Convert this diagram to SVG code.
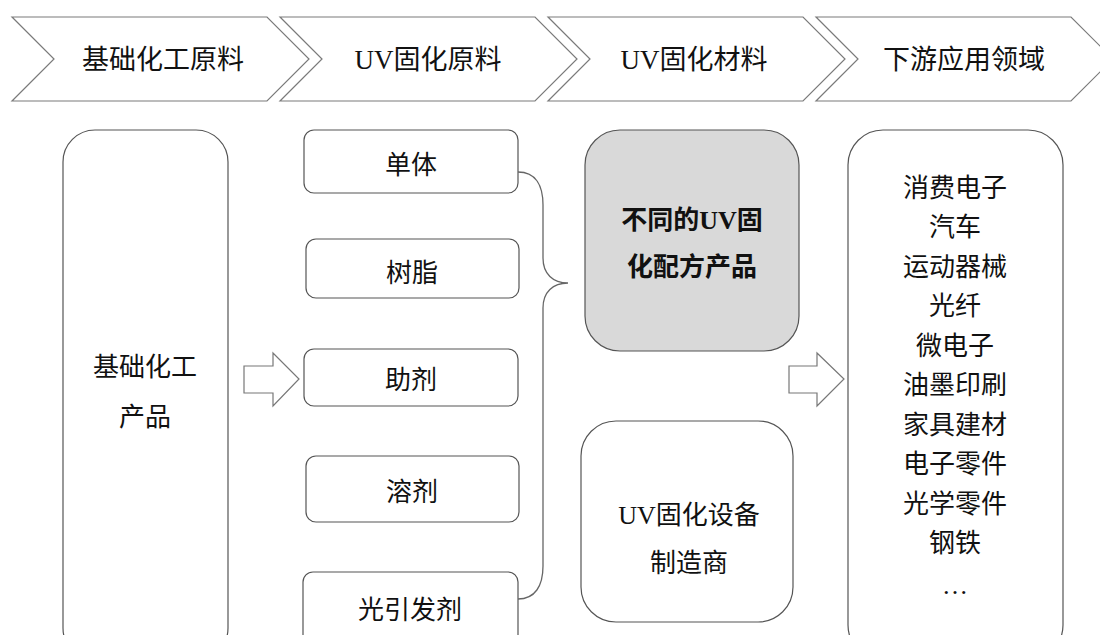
<svg xmlns="http://www.w3.org/2000/svg" width="1100" height="635" viewBox="0 0 1100 635">
<style>
.t{font-family:"Liberation Serif","Noto Sans CJK SC",serif;font-size:26px;fill:#111;text-anchor:middle}
.h{font-size:27px}
.b{font-weight:bold}
.chev{fill:#fff;stroke:#7a7a7a;stroke-width:1.2}
.box{fill:#fff;stroke:#555;stroke-width:1.2}
.gray{fill:#d9d9d9;stroke:#555;stroke-width:1.2}
.harrow{fill:#fff;stroke:#777;stroke-width:1.2}
.conn{fill:none;stroke:#666;stroke-width:1.3}
</style>
<rect width="1100" height="635" fill="#fff"/>
<g id="stage1">
<polygon class="chev" points="12,17 267,17 309,59 267,101 12,101 54,59"/>
<text class="t h" x="163" y="69">基础化工原料</text>
</g>
<g id="stage2">
<polygon class="chev" points="280,17 535,17 577,59 535,101 280,101 322,59"/>
<text class="t h" x="428" y="69">UV固化原料</text>
</g>
<g id="stage3">
<polygon class="chev" points="548,17 803,17 845,59 803,101 548,101 590,59"/>
<text class="t h" x="694" y="69">UV固化材料</text>
</g>
<g id="stage4">
<polygon class="chev" points="816,17 1071,17 1113,59 1071,101 816,101 858,59"/>
<text class="t h" x="964" y="69">下游应用领域</text>
</g>
<g id="basic">
<rect class="box" x="63" y="130" width="165" height="530" rx="32"/>
<text class="t" x="145" y="376">基础化工</text>
<text class="t" x="145" y="426">产品</text>
</g>
<g id="monomer">
<rect class="box" x="304" y="130" width="214" height="63" rx="10"/>
<text class="t" x="411" y="174">单体</text>
</g>
<g id="resin">
<rect class="box" x="306" y="239" width="213" height="59" rx="10"/>
<text class="t" x="412" y="282">树脂</text>
</g>
<g id="additive">
<rect class="box" x="304" y="349" width="214" height="57" rx="10"/>
<text class="t" x="411" y="389">助剂</text>
</g>
<g id="solvent">
<rect class="box" x="306" y="456" width="213" height="66" rx="10"/>
<text class="t" x="412" y="501">溶剂</text>
</g>
<g id="photoinitiator">
<rect class="box" x="303" y="572" width="215" height="80" rx="10"/>
<text class="t" x="410" y="619">光引发剂</text>
</g>
<g id="formulation">
<rect class="gray" x="585" y="130" width="214" height="221" rx="35"/>
<text class="t b" x="692" y="229">不同的UV固</text>
<text class="t b" x="692" y="276">化配方产品</text>
</g>
<g id="equipment">
<rect class="box" x="581" y="421" width="212" height="201" rx="35"/>
<text class="t" x="689" y="524">UV固化设备</text>
<text class="t" x="689" y="572">制造商</text>
</g>
<g id="downstream">
<rect class="box" x="848" y="130" width="215" height="530" rx="35"/>
<text class="t" x="955" y="197">消费电子</text>
<text class="t" x="955" y="236">汽车</text>
<text class="t" x="955" y="276">运动器械</text>
<text class="t" x="955" y="315">光纤</text>
<text class="t" x="955" y="355">微电子</text>
<text class="t" x="955" y="394">油墨印刷</text>
<text class="t" x="955" y="434">家具建材</text>
<text class="t" x="955" y="473">电子零件</text>
<text class="t" x="955" y="513">光学零件</text>
<text class="t" x="955" y="552">钢铁</text>
<text class="t" x="955" y="594">…</text>
</g>
<g id="connectors">
<polygon class="harrow" points="244,366 273,366 273,353 299,379 273,406 273,393 244,393"/>
<polygon class="harrow" points="789,366 817,366 817,353 844,379 817,406 817,393 789,393"/>
<path class="conn" d="M518,172 C536,172 543,186 543,205 L543,258 C543,274 553,283 568,283 C553,283 543,292 543,308 L543,566 C543,586 535,599 518,599"/>
</g>
</svg>
